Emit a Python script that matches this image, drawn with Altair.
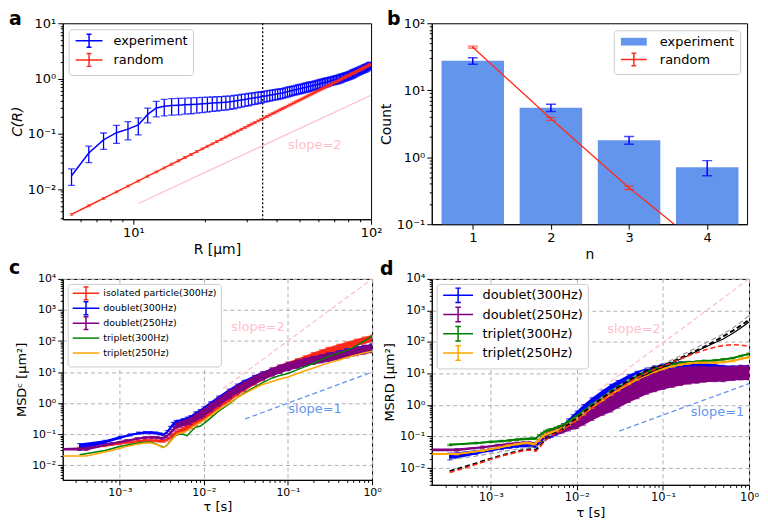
import altair as alt
import pandas as pd

FONT = "DejaVu Sans"
RED = "#ff2a1a"
BLUE = "#0000ff"
PURPLE = "#800080"
GREEN = "#008000"
ORANGE = "#ffa500"
PINK = "#ffc0cb"
CORNFLOWER = "#6495ed"

# ---------------- panel a data ----------------
R_UM = [5.5, 6.5, 7.5, 8.5, 9.5, 10.5, 11.5, 12.5, 13.5, 14.5, 15.5, 16.5, 17.5, 18.5, 19.5,
        20.5, 21.5, 22.5, 23.5, 24.5, 25.5, 26.5, 27.5, 28.5, 29.5, 30.5, 31.5, 32.5, 33.5, 34.5,
        35.5, 36.5, 37.5, 38.5, 39.5, 40.5, 41.5, 42.5, 43.5, 44.5, 45.5, 46.5, 47.5, 48.5, 49.5,
        50.5, 51.5, 52.5, 53.5, 54.5, 55.5, 56.5, 57.5, 58.5, 59.5, 60.5, 61.5, 62.5, 63.5, 64.5,
        65.5, 66.5, 67.5, 68.5, 69.5, 70.5, 71.5, 72.5, 73.5, 74.5, 75.5, 76.5, 77.5, 78.5, 79.5,
        80.5, 81.5, 82.5, 83.5, 84.5, 85.5, 86.5, 87.5, 88.5, 89.5, 90.5, 91.5, 92.5, 93.5, 94.5,
        95.5, 96.5, 97.5, 98.5, 99.5]
C_EXP = [0.0175, 0.045, 0.078, 0.105, 0.122, 0.145, 0.225, 0.295, 0.315, 0.325, 0.33, 0.335, 0.34, 0.345, 0.35,
         0.355, 0.36, 0.365, 0.37, 0.375, 0.38, 0.39, 0.40, 0.41, 0.42, 0.43, 0.44, 0.45, 0.46, 0.47,
         0.48, 0.49, 0.50, 0.51, 0.52, 0.53, 0.54, 0.55, 0.565, 0.58, 0.595, 0.61, 0.62, 0.635, 0.65,
         0.66, 0.675, 0.69, 0.70, 0.715, 0.73, 0.74, 0.755, 0.77, 0.785, 0.80, 0.815, 0.83, 0.845, 0.86,
         0.875, 0.89, 0.905, 0.92, 0.935, 0.95, 0.965, 0.98, 1.0, 1.02, 1.04, 1.06, 1.08, 1.10, 1.12,
         1.14, 1.16, 1.19, 1.22, 1.25, 1.28, 1.31, 1.34, 1.37, 1.40, 1.43, 1.46, 1.49, 1.52, 1.55,
         1.58, 1.62, 1.66, 1.70, 1.74]
C_EXP_REL = [0.33, 0.33, 0.33, 0.36, 0.36, 0.34, 0.30, 0.31, 0.33, 0.33, 0.33, 0.32, 0.32, 0.31, 0.31,
             0.30, 0.29, 0.29, 0.28, 0.28, 0.27, 0.27, 0.26, 0.26, 0.25, 0.25, 0.24, 0.24, 0.23, 0.23,
             0.22, 0.22, 0.22, 0.21, 0.21, 0.21, 0.20, 0.20, 0.20, 0.20, 0.20, 0.19, 0.19, 0.19, 0.19,
             0.19, 0.19, 0.19, 0.19, 0.19, 0.19, 0.18, 0.18, 0.18, 0.18, 0.18, 0.18, 0.18, 0.18, 0.18,
             0.18, 0.17, 0.17, 0.17, 0.17, 0.17, 0.17, 0.17, 0.17, 0.17, 0.17, 0.16, 0.16, 0.16, 0.16,
             0.16, 0.16, 0.16, 0.16, 0.16, 0.16, 0.15, 0.15, 0.15, 0.15, 0.15, 0.15, 0.15, 0.15, 0.15,
             0.15, 0.14, 0.14, 0.14, 0.14]
C_RAND = [0.0035, 0.00502, 0.00683, 0.00895, 0.01137, 0.01411, 0.01717, 0.02055, 0.02426, 0.0283,
          0.0327, 0.0374, 0.0424, 0.0479, 0.0536, 0.0597, 0.0661, 0.0730, 0.0801, 0.0877,
          0.0955, 0.1038, 0.1124, 0.1214, 0.1308, 0.1405, 0.1507, 0.1612, 0.1720, 0.1833,
          0.1950, 0.2070, 0.2195, 0.2323, 0.2455, 0.2592, 0.2730, 0.2874, 0.3022, 0.3174,
          0.3329, 0.3489, 0.3653, 0.3820, 0.3993, 0.4169, 0.4349, 0.4535, 0.4722, 0.4914,
          0.5110, 0.5309, 0.5516, 0.5726, 0.5937, 0.6157, 0.6377, 0.6603, 0.6832, 0.7067,
          0.7302, 0.7546, 0.7793, 0.8044, 0.8299, 0.8559, 0.8823, 0.9090, 0.9363, 0.9643,
          0.9920, 1.021, 1.050, 1.079, 1.109, 1.139, 1.170, 1.201, 1.233, 1.265,
          1.297, 1.330, 1.363, 1.397, 1.432, 1.466, 1.502, 1.537, 1.573, 1.609,
          1.646, 1.684, 1.722, 1.760, 1.799]
C_RAND_REL = 0.04
R_MARK = [35.0]
SLOPE_A_R = [10.5, 100.0]
SLOPE_A_C = [0.0055, 0.5]
SLOPE_A_TEXT = {"R": [58.0], "C": [0.062], "t": ["slope=2"]}
LEG_A = ["experiment", "random"]

# ---------------- panel b data ----------------
N_VALUES = [1, 2, 3, 4]
EXP_COUNT = [27.5, 5.5, 1.8, 0.71]
EXP_ERR = [3.0, 0.7, 0.24, 0.18]
RAND_COUNT = [44.0, 3.75, 0.35, 0.04]
RAND_ERR = [1.5, 0.2, 0.02, 0.003]
LEG_B = ["experiment", "random"]

# ---------------- panels c, d data ----------------
TAU300 = [3.33e-4, 6.67e-4, 1.0e-3, 1.33e-3, 1.67e-3, 2.0e-3, 2.33e-3, 2.67e-3, 3.0e-3, 3.33e-3,
          3.67e-3, 4.0e-3, 4.33e-3, 4.67e-3, 5.0e-3, 5.67e-3, 6.33e-3, 7.0e-3, 8.0e-3, 9.0e-3,
          1.0e-2, 1.2e-2, 1.5e-2, 2.0e-2, 2.5e-2, 3.0e-2, 4.0e-2, 5.0e-2, 6.5e-2, 8.0e-2,
          0.1, 0.13, 0.16, 0.2, 0.25, 0.3, 0.4, 0.5, 0.65, 0.8, 1.0]
TAU250 = [2.1e-4, 4.0e-4, 8.0e-4, 1.2e-3, 1.6e-3, 2.0e-3, 2.4e-3, 2.8e-3, 3.2e-3, 3.6e-3,
          4.0e-3, 4.4e-3, 4.8e-3, 5.2e-3, 6.0e-3, 6.8e-3, 8.0e-3, 9.2e-3, 1.0e-2, 1.2e-2,
          1.5e-2, 2.0e-2, 2.5e-2, 3.0e-2, 4.0e-2, 5.0e-2, 6.5e-2, 8.0e-2, 0.1, 0.13,
          0.16, 0.2, 0.25, 0.3, 0.4, 0.5, 0.65, 0.8, 1.0]

C_RED = [0.035, 0.043, 0.050, 0.056, 0.060, 0.063, 0.063, 0.062, 0.060, 0.060,
         0.068, 0.080, 0.095, 0.11, 0.12, 0.14, 0.17, 0.20, 0.26, 0.32,
         0.40, 0.58, 0.95, 1.6, 2.5, 3.4, 5.3, 7.3, 10.5, 13.5,
         17, 22, 27, 34, 42, 50, 63, 75, 92, 108, 125]
C_RED_REL = [0.10, 0.08, 0.08, 0.08, 0.08, 0.08, 0.08, 0.08, 0.08, 0.08,
             0.10, 0.12, 0.14, 0.16, 0.18, 0.20, 0.22, 0.24, 0.26, 0.28,
             0.30, 0.30, 0.30, 0.30, 0.30, 0.30, 0.28, 0.28, 0.26, 0.26,
             0.25, 0.25, 0.25, 0.25, 0.25, 0.25, 0.25, 0.25, 0.25, 0.25, 0.25]
C_BLUE = [0.040, 0.057, 0.078, 0.095, 0.108, 0.113, 0.113, 0.110, 0.103, 0.098,
          0.12, 0.16, 0.21, 0.24, 0.25, 0.27, 0.30, 0.33, 0.42, 0.50,
          0.60, 0.85, 1.3, 2.2, 3.2, 4.2, 6.2, 8.0, 10.5, 12.5,
          15, 18, 21, 25, 29, 33, 39, 45, 52, 58, 65]
C_BLUE_REL = [0.25, 0.12, 0.10, 0.08, 0.08, 0.08, 0.08, 0.08, 0.08, 0.08,
              0.10, 0.12, 0.15, 0.15, 0.15, 0.18, 0.20, 0.22, 0.25, 0.25,
              0.28, 0.30, 0.30, 0.30, 0.30, 0.30, 0.28, 0.28, 0.26, 0.25,
              0.25, 0.25, 0.25, 0.25, 0.25, 0.25, 0.25, 0.25, 0.25, 0.25, 0.25]
C_PURPLE = [0.033, 0.034, 0.050, 0.062, 0.072, 0.078, 0.080, 0.078, 0.074, 0.085,
            0.11, 0.15, 0.19, 0.21, 0.24, 0.27, 0.36, 0.45, 0.52, 0.75,
            1.15, 2.0, 2.9, 3.8, 5.8, 7.8, 10.5, 13, 16, 19,
            22, 25, 28, 31, 36, 41, 48, 54, 60]
C_PURPLE_REL = [0.10, 0.12, 0.08, 0.08, 0.08, 0.08, 0.08, 0.08, 0.08, 0.10,
                0.12, 0.15, 0.18, 0.20, 0.22, 0.24, 0.26, 0.28, 0.30, 0.30,
                0.30, 0.30, 0.30, 0.30, 0.30, 0.30, 0.30, 0.30, 0.30, 0.30,
                0.30, 0.30, 0.30, 0.30, 0.30, 0.30, 0.30, 0.30, 0.30]
C_GREEN = [0.022, 0.030, 0.040, 0.047, 0.052, 0.055, 0.055, 0.050, 0.042, 0.038,
           0.045, 0.060, 0.080, 0.095, 0.10, 0.10, 0.09, 0.12, 0.17, 0.18,
           0.22, 0.33, 0.55, 0.95, 1.5, 2.1, 3.3, 4.6, 6.5, 7.8,
           9.0, 12, 15, 19, 25, 32, 40, 50, 70, 100, 145]
C_ORANGE = [0.020, 0.020, 0.030, 0.040, 0.048, 0.052, 0.052, 0.046, 0.037, 0.042,
            0.058, 0.080, 0.10, 0.11, 0.12, 0.15, 0.20, 0.25, 0.28, 0.40,
            0.62, 1.0, 1.5, 2.0, 3.0, 4.0, 5.0, 6.0, 7.0, 9.0,
            11, 13.5, 16.5, 19.5, 24.5, 29.5, 35.5, 41, 47]
LEG_C = ["isolated particle(300Hz)", "doublet(300Hz)", "doublet(250Hz)", "triplet(300Hz)", "triplet(250Hz)"]

D_BLUE = [0.024, 0.032, 0.038, 0.043, 0.047, 0.050, 0.052, 0.052, 0.051, 0.050,
          0.065, 0.085, 0.10, 0.11, 0.12, 0.14, 0.17, 0.20, 0.28, 0.38,
          0.50, 0.80, 1.3, 2.3, 3.5, 4.6, 7.0, 9.0, 11.5, 13.5,
          15.5, 17, 17.5, 17.5, 16.5, 15.5, 14, 13, 12.5, 13, 13]
D_BLUE_REL = [0.25, 0.15, 0.12, 0.10, 0.10, 0.10, 0.10, 0.10, 0.10, 0.10,
              0.12, 0.15, 0.18, 0.20, 0.22, 0.24, 0.26, 0.28, 0.30, 0.30,
              0.30, 0.30, 0.30, 0.30, 0.30, 0.30, 0.30, 0.30, 0.30, 0.30,
              0.32, 0.34, 0.36, 0.38, 0.40, 0.40, 0.40, 0.40, 0.40, 0.40, 0.40]
D_PURPLE = [0.038, 0.038, 0.046, 0.053, 0.058, 0.062, 0.064, 0.064, 0.060, 0.075,
            0.10, 0.12, 0.13, 0.14, 0.16, 0.18, 0.22, 0.27, 0.30, 0.42,
            0.65, 1.05, 1.5, 2.0, 3.0, 4.2, 5.8, 7.0, 8.2, 9.2,
            10, 10.5, 11, 11, 11, 11, 11.5, 12, 12]
D_PURPLE_REL = [0.10, 0.10, 0.08, 0.08, 0.08, 0.08, 0.08, 0.08, 0.08, 0.10,
                0.12, 0.15, 0.18, 0.20, 0.24, 0.28, 0.32, 0.36, 0.40, 0.45,
                0.50, 0.55, 0.60, 0.60, 0.60, 0.62, 0.62, 0.62, 0.62, 0.60,
                0.58, 0.56, 0.55, 0.52, 0.50, 0.50, 0.48, 0.48, 0.48]
D_GREEN = [0.055, 0.062, 0.068, 0.072, 0.076, 0.080, 0.083, 0.085, 0.086, 0.087,
           0.11, 0.13, 0.15, 0.16, 0.17, 0.19, 0.21, 0.24, 0.30, 0.37,
           0.45, 0.65, 1.05, 1.8, 2.8, 3.8, 5.9, 8.0, 11, 14,
           17, 20, 22, 23, 24, 25, 26, 28, 31, 36, 42]
D_ORANGE = [0.028, 0.028, 0.036, 0.044, 0.052, 0.058, 0.062, 0.062, 0.058, 0.075,
            0.10, 0.12, 0.13, 0.14, 0.16, 0.18, 0.24, 0.31, 0.36, 0.52,
            0.85, 1.45, 2.2, 3.0, 4.7, 6.5, 9.0, 11.5, 14, 17,
            19, 21, 22, 22, 22, 23, 25, 29, 33]
D_TRIPLET_REL = 0.06
D_BLACK_DASH = [0.008, 0.014, 0.020, 0.025, 0.030, 0.034, 0.037, 0.039, 0.040, 0.038,
                0.048, 0.065, 0.080, 0.095, 0.11, 0.13, 0.15, 0.18, 0.24, 0.31,
                0.38, 0.58, 0.95, 1.7, 2.6, 3.6, 6.0, 8.5, 12.5, 16,
                18, 24, 31, 41, 55, 70, 105, 150, 230, 330, 500]
D_RED_DASH = [0.0072, 0.013, 0.019, 0.024, 0.028, 0.032, 0.035, 0.037, 0.037, 0.034,
              0.044, 0.060, 0.075, 0.090, 0.105, 0.125, 0.145, 0.17, 0.22, 0.28,
              0.34, 0.52, 0.85, 1.5, 2.3, 3.2, 5.2, 7.3, 10.5, 13.5,
              17, 23, 29, 37, 46, 55, 68, 77, 82, 80, 72]
D_GRAY_DASH = [0.019, 0.024, 0.029, 0.033, 0.037, 0.040, 0.043, 0.045, 0.046, 0.045,
               0.055, 0.070, 0.085, 0.10, 0.115, 0.135, 0.155, 0.185, 0.25, 0.32,
               0.40, 0.60, 1.0, 1.8, 2.8, 3.9, 6.4, 9.2, 14, 17,
               20, 28, 37, 50, 68, 88, 130, 180, 280, 420, 690]
D_BLACK_SOLID_TAU = [5e-2, 6.5e-2, 8e-2, 0.1, 0.13, 0.16, 0.2, 0.25, 0.3, 0.4, 0.5, 0.65, 0.8, 1.0]
D_BLACK_SOLID = [7, 9.5, 12.5, 16, 22, 29, 38, 52, 66, 95, 125, 190, 280, 430]
LEG_D = ["doublet(300Hz)", "doublet(250Hz)", "triplet(300Hz)", "triplet(250Hz)"]

SLOPE2_C = {"t": [0.0169, 1.0], "v": [2.9, 1.0e4]}
SLOPE1_C = {"t": [0.031, 1.0], "v": [0.31, 10.0]}
SLOPE2_D = {"t": [0.0175, 1.0], "v": [2.8, 1.0e4]}
SLOPE1_D = {"t": [0.031, 1.0], "v": [0.15, 4.8]}
TEXT_C = {"t": [0.044, 0.21], "v": [275.0, 0.65], "s": ["slope=2", "slope=1"]}
TEXT_D = {"t": [0.046, 0.43], "v": [250.0, 0.62], "s": ["slope=2", "slope=1"]}

# ---------------- helpers ----------------
# legend symbols: start at the nominal box's left edge and run three times its width;
# bare move-to points give every symbol the same height so the rows are evenly spaced
EB_PATH = "M-1,0H5M2,-1.45V1.45M1.45,-1.45H2.55M1.45,1.45H2.55"
LINE_PATH = "M2,-1.45M2,1.45M-1,0H5"
RECT_PATH = "M2,-1.45M2,1.45M-1,-0.9H5V0.9H-1Z"

LOG10 = "(log(datum.value)/LN10)"
MAJOR = f"abs({LOG10} - round({LOG10})) < 0.001"
SUP = ("replace(replace(replace(replace(replace(replace('' + round(" + LOG10 + "),"
       "'-','\u207b'),'0','\u2070'),'1','\u00b9'),'2','\u00b2'),'3','\u00b3'),'4','\u2074')")
LABEL_EXPR = f"({MAJOR}) ? ('10' + {SUP}) : ''"


def log_values(lo, hi):
    out = []
    for e in range(-6, 5):
        for m in range(1, 10):
            v = m * 10.0 ** e
            if lo * 0.9999 <= v <= hi * 1.0001:
                out.append(v)
    return out


def log_axis(title, lo, hi, lsize, tsize, grid=False, tpad=4, **extra):
    kw = dict(values=log_values(lo, hi), labelExpr=LABEL_EXPR, title=title,
              tickSize={"condition": {"test": MAJOR, "value": 5}, "value": 2.5},
              labelFontSize=lsize, titleFontSize=tsize, labelFlush=False,
              labelOverlap=False, titlePadding=tpad, grid=grid)
    if grid:
        kw.update(gridDash=[4, 3], gridColor="#b0b0b0", gridWidth=1,
                  gridOpacity={"condition": {"test": MAJOR, "value": 1}, "value": 0})
    kw.update(extra)
    return alt.Axis(**kw)


def enc(scale, axis, kind):
    def f(field):
        if kind == "x":
            return alt.X(field, type="quantitative", scale=scale, axis=axis)
        return alt.Y(field, type="quantitative", scale=scale, axis=axis)
    return f


def errbars(df, X, Y, xf, color, cap, width=1.2):
    base = alt.Chart(df)
    rule = base.mark_rule(color=color, strokeWidth=width, clip=True).encode(
        x=X(xf), y=Y("lo"), y2=alt.Y2("hi:Q"))
    t1 = base.mark_tick(color=color, orient="horizontal", size=cap, thickness=width, clip=True).encode(
        x=X(xf), y=Y("lo"))
    t2 = base.mark_tick(color=color, orient="horizontal", size=cap, thickness=width, clip=True).encode(
        x=X(xf), y=Y("hi"))
    return [rule, t1, t2]


def frame(xs, ys, rel=None, xname="t", yname="v"):
    d = pd.DataFrame({xname: xs, yname: ys})
    if rel is not None:
        r = rel if isinstance(rel, list) else [rel] * len(ys)
        d["lo"] = [v * (1 - q) for v, q in zip(ys, r)]
        d["hi"] = [v * (1 + q) for v, q in zip(ys, r)]
    return d


def series(df, X, Y, color, width=1.5, band=False, bars=False, cap=5, dash=None, bar_min=3e-4):
    out = []
    if band:
        out.append(alt.Chart(df).mark_area(color=color, opacity=1, clip=True).encode(
            x=X("t"), y=Y("lo"), y2=alt.Y2("hi:Q")))
    kw = dict(color=color, strokeWidth=width, clip=True)
    if dash:
        kw["strokeDash"] = dash
    out.append(alt.Chart(df).mark_line(**kw).encode(x=X("t"), y=Y("v")))
    if bars:
        out += errbars(df[df["t"] >= bar_min], X, Y, "t", color, cap, 1.1)
    return out


def panel_label(ch, dx, dy):
    return alt.Chart(pd.DataFrame({"lab": [ch]})).mark_text(
        align="left", baseline="alphabetic", fontSize=19, fontWeight="bold", color="black", font=FONT
    ).encode(text="lab:N", x=alt.value(dx), y=alt.value(dy))


def legend(orient, offset, width, lsize, rowpad, gap, pad=5):
    # width = drawn symbol width; the nominal symbol box is a third of it
    box = width / 3.0
    return alt.Legend(title=None, orient=orient, offset=offset, symbolSize=box * box, symbolStrokeWidth=1.5,
                      labelOffset=2 * box + gap,
                      labelFontSize=lsize, labelFont=FONT, labelColor="black", strokeColor="#cccccc",
                      fillColor="white", padding=pad, cornerRadius=3, rowPadding=rowpad,
                      symbolOpacity=1)


# ---------------- panel a ----------------
SAX = alt.Scale(type="log", domain=[5.05, 100], nice=False)
SAY = alt.Scale(type="log", domain=[0.00286, 10], nice=False)
XA = enc(SAX, log_axis("R [μm]", 5.05, 100, 13, 14, tpad=3), "x")
YA = enc(SAY, log_axis("C(R)", 0.00286, 10, 13, 14, tpad=3, titleFontStyle="italic"), "y")

df_exp = frame(R_UM, C_EXP, C_EXP_REL, "R", "C")
df_rand = frame(R_UM, C_RAND, C_RAND_REL, "R", "C")
df_slope_a = pd.DataFrame({"R": SLOPE_A_R, "C": SLOPE_A_C})
leg_a = legend("top-left", 6, 27, 13, -1.7, 9)
layers_a = [
    alt.Chart(df_slope_a).mark_line(color=PINK, strokeWidth=1.3).encode(x=XA("R"), y=YA("C")),
    alt.Chart(pd.DataFrame({"R": R_MARK})).mark_rule(color="black", strokeDash=[2, 2], strokeWidth=1.3).encode(x=XA("R")),
    alt.Chart(df_exp).mark_line(color=BLUE, strokeWidth=1.5, clip=True).encode(x=XA("R"), y=YA("C")),
    *errbars(df_exp, XA, YA, "R", BLUE, 7, 1.3),
    alt.Chart(df_rand).mark_line(color=RED, strokeWidth=1.5, clip=True).encode(x=XA("R"), y=YA("C")),
    *errbars(df_rand, XA, YA, "R", RED, 4, 1.0),
    alt.Chart(pd.DataFrame(SLOPE_A_TEXT)).mark_text(color=PINK, fontSize=13, font=FONT).encode(
        x=XA("R"), y=YA("C"), text="t:N"),
    alt.Chart(pd.DataFrame({"series": LEG_A, "R": [10.0, 10.0], "C": [1.0, 1.0]})).mark_point(
        filled=False, opacity=0, strokeWidth=1.5).encode(
        x=XA("R"), y=YA("C"),
        color=alt.Color("series:N", scale=alt.Scale(domain=LEG_A, range=[BLUE, RED]), legend=leg_a),
        shape=alt.Shape("series:N", scale=alt.Scale(domain=LEG_A, range=[EB_PATH, EB_PATH]), legend=leg_a)),
    panel_label("a", -54, 2),
]
chart_a = alt.layer(*layers_a).properties(width=310, height=197)

# ---------------- panel b ----------------
SBX = alt.Scale(domain=[0.475, 4.51], nice=False, zero=False)
SBY = alt.Scale(type="log", domain=[0.1, 100], nice=False)
AXB_X = alt.Axis(values=N_VALUES, format="d", title="n", tickSize=5, labelFontSize=13, titleFontSize=14,
                 labelFlush=False, grid=False, titlePadding=3)
XB = enc(SBX, AXB_X, "x")
YB = enc(SBY, log_axis("Count", 0.1, 100, 13, 14, tpad=3), "y")
df_bexp = pd.DataFrame({"n": N_VALUES, "v": EXP_COUNT, "e": EXP_ERR})
df_bexp["lo"] = df_bexp["v"] - df_bexp["e"]
df_bexp["hi"] = df_bexp["v"] + df_bexp["e"]
df_brand = pd.DataFrame({"n": N_VALUES, "v": RAND_COUNT, "e": RAND_ERR})
df_brand["lo"] = df_brand["v"] - df_brand["e"]
df_brand["hi"] = df_brand["v"] + df_brand["e"]
leg_b = legend("top-right", 7, 26, 13, -1.0, 11)
layers_b = [
    alt.Chart(df_bexp).transform_calculate(x0="datum.n - 0.4", x1="datum.n + 0.4").mark_bar(
        color=CORNFLOWER).encode(x=XB("x0"), x2=alt.X2("x1:Q"), y=YB("v"), y2=alt.datum(0.1)),
    *errbars(df_bexp, XB, YB, "n", BLUE, 10, 1.5),
    alt.Chart(df_brand).mark_line(color=RED, strokeWidth=1.3, clip=True).encode(x=XB("n"), y=YB("v")),
    *errbars(df_brand, XB, YB, "n", RED, 10, 1.3),
    alt.Chart(pd.DataFrame({"series": LEG_B, "n": [2.0, 2.0], "v": [1.0, 1.0]})).mark_point(
        filled=True, opacity=0, strokeWidth=1.5).encode(
        x=XB("n"), y=YB("v"),
        fill=alt.Fill("series:N", scale=alt.Scale(domain=LEG_B, range=[CORNFLOWER, "transparent"]), legend=leg_b),
        stroke=alt.Stroke("series:N", scale=alt.Scale(domain=LEG_B, range=["transparent", RED]), legend=leg_b),
        shape=alt.Shape("series:N", scale=alt.Scale(domain=LEG_B, range=[RECT_PATH, EB_PATH]), legend=leg_b)),
    panel_label("b", -45, 2),
]
chart_b = alt.layer(*layers_b).properties(width=317, height=202)

# ---------------- panel c ----------------
SCX = alt.Scale(type="log", domain=[2.1e-4, 1.0], nice=False)
SCY = alt.Scale(type="log", domain=[0.0034, 1.0e4], nice=False)
XC = enc(SCX, log_axis("τ [s]", 2.1e-4, 1.0, 11, 13, grid=True, tpad=3), "x")
YC = enc(SCY, log_axis("MSDᶜ [μm²]", 0.0034, 1.0e4, 11, 13, grid=True, tpad=3), "y")
leg_c = legend("top-left", 5, 26.7, 9.5, -4.0, 3, pad=4)
layers_c = [
    *series(frame(TAU300, C_RED, C_RED_REL), XC, YC, RED, band=True, bars=True),
    *series(frame(TAU300, C_BLUE, C_BLUE_REL), XC, YC, BLUE, band=True, bars=True),
    *series(frame(TAU250, C_PURPLE, C_PURPLE_REL), XC, YC, PURPLE, band=True, bars=True),
    *series(frame(TAU300, C_GREEN), XC, YC, GREEN),
    *series(frame(TAU250, C_ORANGE), XC, YC, ORANGE),
    alt.Chart(pd.DataFrame(SLOPE2_C)).mark_line(color=PINK, strokeDash=[5, 3], strokeWidth=1.3).encode(x=XC("t"), y=YC("v")),
    alt.Chart(pd.DataFrame(SLOPE1_C)).mark_line(color=CORNFLOWER, strokeDash=[5, 3], strokeWidth=1.3).encode(x=XC("t"), y=YC("v")),
    alt.Chart(pd.DataFrame(TEXT_C)).mark_text(fontSize=13, font=FONT).encode(
        x=XC("t"), y=YC("v"), text="s:N",
        color=alt.Color("s:N", scale=alt.Scale(domain=["slope=2", "slope=1"], range=[PINK, CORNFLOWER]), legend=None)),
    alt.Chart(pd.DataFrame({"series": LEG_C, "t": [0.01] * 5, "v": [1.0] * 5})).mark_point(
        filled=False, opacity=0, strokeWidth=1.5).encode(
        x=XC("t"), y=YC("v"),
        stroke=alt.Stroke("series:N", scale=alt.Scale(domain=LEG_C, range=[RED, BLUE, PURPLE, GREEN, ORANGE]), legend=leg_c),
        shape=alt.Shape("series:N", scale=alt.Scale(domain=LEG_C, range=[EB_PATH, EB_PATH, EB_PATH, LINE_PATH, LINE_PATH]), legend=leg_c)),
    panel_label("c", -54, -5),
]
chart_c = alt.layer(*layers_c).properties(width=311, height=202)

# ---------------- panel d ----------------
SDX = alt.Scale(type="log", domain=[2.06e-4, 1.0], nice=False)
SDY = alt.Scale(type="log", domain=[0.00295, 1.0e4], nice=False)
XD = enc(SDX, log_axis("τ [s]", 2.06e-4, 1.0, 11.5, 13, grid=True, tpad=3), "x")
YD = enc(SDY, log_axis("MSRD [μm²]", 0.00295, 1.0e4, 11.5, 13, grid=True, tpad=3), "y")
leg_d = legend("top-left", 5, 30, 13, -1.7, 8)
layers_d = [
    *series(frame(TAU300, D_BLUE, D_BLUE_REL), XD, YD, BLUE, band=True, bars=True),
    *series(frame(TAU250, D_PURPLE, D_PURPLE_REL), XD, YD, PURPLE, band=True, bars=True),
    *series(frame(TAU300, D_GREEN, D_TRIPLET_REL), XD, YD, GREEN, width=1.8, band=True, bars=True),
    *series(frame(TAU250, D_ORANGE, D_TRIPLET_REL), XD, YD, ORANGE, width=1.8, band=True, bars=True),
    *series(frame(TAU300, D_GRAY_DASH), XD, YD, "#9a9a9a", width=1.2, dash=[5, 3]),
    *series(frame(D_BLACK_SOLID_TAU, D_BLACK_SOLID), XD, YD, "black", width=1.2),
    *series(frame(TAU300, D_BLACK_DASH), XD, YD, "black", width=2.0, dash=[5, 3]),
    *series(frame(TAU300, D_RED_DASH), XD, YD, RED, width=1.6, dash=[5, 3]),
    alt.Chart(pd.DataFrame(SLOPE2_D)).mark_line(color=PINK, strokeDash=[5, 3], strokeWidth=1.3).encode(x=XD("t"), y=YD("v")),
    alt.Chart(pd.DataFrame(SLOPE1_D)).mark_line(color=CORNFLOWER, strokeDash=[5, 3], strokeWidth=1.3).encode(x=XD("t"), y=YD("v")),
    alt.Chart(pd.DataFrame(TEXT_D)).mark_text(fontSize=13, font=FONT).encode(
        x=XD("t"), y=YD("v"), text="s:N",
        color=alt.Color("s:N", scale=alt.Scale(domain=["slope=2", "slope=1"], range=[PINK, CORNFLOWER]), legend=None)),
    alt.Chart(pd.DataFrame({"series": LEG_D, "t": [0.01] * 4, "v": [1.0] * 4})).mark_point(
        filled=False, opacity=0, strokeWidth=1.5).encode(
        x=XD("t"), y=YD("v"),
        stroke=alt.Stroke("series:N", scale=alt.Scale(domain=LEG_D, range=[BLUE, PURPLE, GREEN, ORANGE]), legend=leg_d),
        shape=alt.Shape("series:N", scale=alt.Scale(domain=LEG_D, range=[EB_PATH] * 4), legend=leg_d)),
    panel_label("d", -52, -4),
]
chart_d = alt.layer(*layers_d).properties(width=319, height=207)

IND = dict(color="independent", shape="independent", fill="independent", stroke="independent")
chart = alt.concat(
    chart_a, chart_b, chart_c, chart_d, columns=2, bounds="flush", align="each",
    spacing={"row": 55, "column": 60}
).resolve_scale(**IND).properties(
    padding={"left": 0, "top": 0, "right": 0, "bottom": 0}
).configure(font=FONT).configure_view(stroke="black", strokeWidth=1).configure_axis(
    domainColor="black", tickColor="black", labelColor="black", titleColor="black",
    titleFontWeight="normal", labelFont=FONT, titleFont=FONT, domainWidth=1, tickWidth=1
)

chart.save("out.html", embed_options={"renderer": "svg", "actions": False})
